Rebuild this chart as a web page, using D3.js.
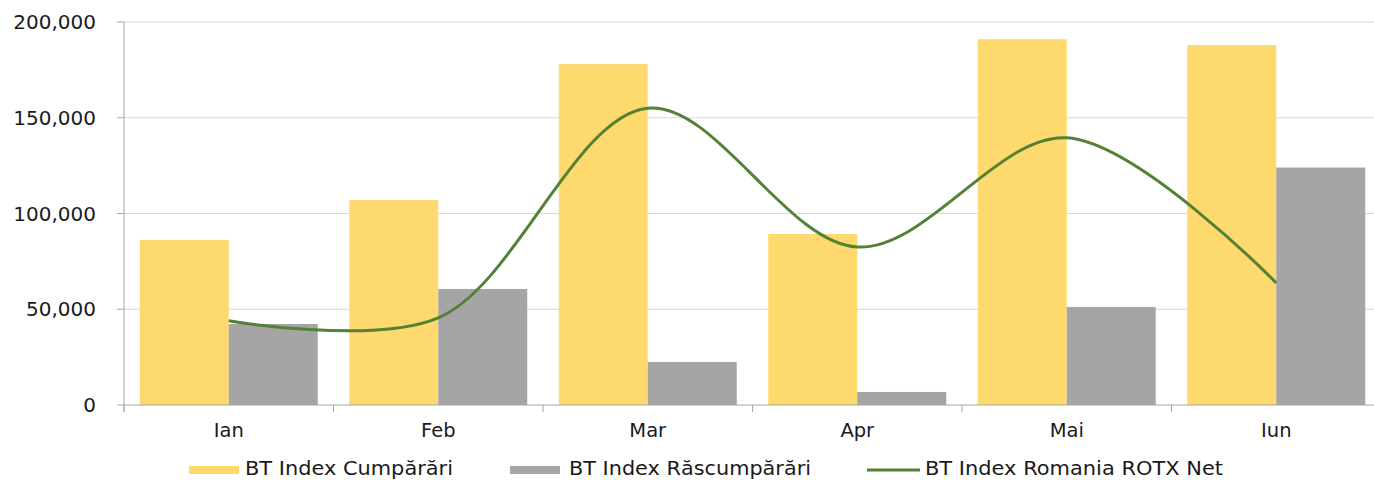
<!DOCTYPE html>
<html><head><meta charset="utf-8">
<script src="https://cdn.jsdelivr.net/npm/d3@7"></script>
<style>
html,body{margin:0;padding:0;background:#fff;overflow:hidden}
svg{display:block}
text{font-family:"DejaVu Sans",Verdana,sans-serif;fill:#1a1a1a}
</style></head>
<body>
<svg id="c" width="1374" height="480"></svg>
<script>
const categories = ["Ian","Feb","Mar","Apr","Mai","Iun"];
const cumparari = [86200, 107000, 178000, 89300, 191000, 188000];
const rascumparari = [42300, 60600, 22500, 6800, 51200, 124000];
const rotxNet = [44000, 45500, 155000, 82500, 139500, 63700];
const yTicks = [0, 50000, 100000, 150000, 200000];
const seriesNames = ["BT Index Cumpărări","BT Index Răscumpărări","BT Index Romania ROTX Net"];

const colYellow = "#fdd96e", colGray = "#a5a5a5", colGreen = "#538135";
const svg = d3.select("#c");
const pLeft = 124, pRight = 1381, pTop = 22, pBottom = 405;

const x0 = d3.scaleBand().domain(categories).range([pLeft, pRight]).padding(0);
const x1 = d3.scaleBand().domain(["c","r"]).range([0, x0.bandwidth()]).paddingInner(0).paddingOuter(0.177);
const y = d3.scaleLinear().domain([0, 200000]).range([pBottom, pTop]);
const fmt = d3.format(",");

// gridlines
svg.append("g").selectAll("line").data(yTicks.filter(d=>d>0)).join("line")
  .attr("x1", pLeft).attr("x2", pRight).attr("y1", d=>y(d)).attr("y2", d=>y(d))
  .attr("stroke", "#d9d9d9").attr("stroke-width", 1);

// bars
const g = svg.append("g");
categories.forEach((c,i)=>{
  g.append("rect").attr("x", x0(c)+x1("c")).attr("width", x1.bandwidth())
    .attr("y", y(cumparari[i])).attr("height", y(0)-y(cumparari[i])).attr("fill", colYellow);
  g.append("rect").attr("x", x0(c)+x1("r")).attr("width", x1.bandwidth())
    .attr("y", y(rascumparari[i])).attr("height", y(0)-y(rascumparari[i])).attr("fill", colGray);
});

// line
const line = d3.line().x((d,i)=>x0(categories[i])+x0.bandwidth()/2).y(d=>y(d))
  .curve(d3.curveCatmullRom.alpha(0.5));
svg.append("path").datum(rotxNet).attr("d", line).attr("fill","none")
  .attr("stroke", colGreen).attr("stroke-width", 3);

// y axis
const ya = svg.append("g");
ya.append("line").attr("x1", pLeft).attr("x2", pLeft).attr("y1", pTop).attr("y2", pBottom+7).attr("stroke","#a6a6a6");
ya.selectAll(".t").data(yTicks).join("line").attr("x1", pLeft-7).attr("x2", pLeft)
  .attr("y1", d=>y(d)).attr("y2", d=>y(d)).attr("stroke","#a6a6a6");
ya.selectAll("text").data(yTicks).join("text").attr("x", 96).attr("y", d=>y(d))
  .attr("dy","0.36em").attr("text-anchor","end").style("font-size","20px").text(d=>fmt(d));

// x axis
const xa = svg.append("g");
xa.append("line").attr("x1", pLeft).attr("x2", pRight).attr("y1", pBottom).attr("y2", pBottom).attr("stroke","#a6a6a6");
xa.selectAll(".t").data(categories.concat(["end"])).join("line")
  .attr("x1", (d,i)=>pLeft+i*x0.step()).attr("x2", (d,i)=>pLeft+i*x0.step())
  .attr("y1", pBottom).attr("y2", pBottom+7).attr("stroke","#a6a6a6");
xa.selectAll("text").data(categories).join("text").attr("x", d=>x0(d)+x0.bandwidth()/2)
  .attr("y", 437).attr("text-anchor","middle").style("font-size","19.5px").text(d=>d);

// legend
const leg = svg.append("g");
const legItems = [
  {sx:189, tx:245, w:208, type:"rect", col:colYellow},
  {sx:510, tx:569, w:242, type:"rect", col:colGray},
  {sx:867, tx:925, w:298, type:"line", col:colGreen}
];
legItems.forEach((it,i)=>{
  if(it.type==="rect") leg.append("rect").attr("x", it.sx).attr("y", 466).attr("width", 50).attr("height", 8).attr("fill", it.col);
  else leg.append("line").attr("x1", it.sx).attr("x2", it.sx+53).attr("y1", 470).attr("y2", 470).attr("stroke", it.col).attr("stroke-width", 3);
  leg.append("text").attr("x", it.tx).attr("y", 475).style("font-size","19.5px")
    .attr("textLength", it.w).attr("lengthAdjust","spacingAndGlyphs").text(seriesNames[i]);
});
</script>
</body></html>
